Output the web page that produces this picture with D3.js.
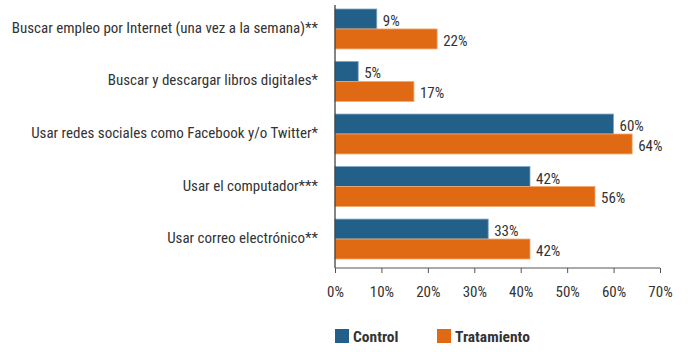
<!DOCTYPE html>
<html>
<head>
<meta charset="utf-8">
<script src="https://cdn.jsdelivr.net/npm/d3@7"></script>
<style>
  body { margin: 0; background: #fff; }
  svg text { font-family: "Liberation Sans Narrow", "Roboto Condensed", "DejaVu Sans Condensed", sans-serif; fill: #333; }
</style>
</head>
<body>
<svg id="chart" width="692" height="352"></svg>
<script>
const categories = [
  "Buscar empleo por Internet (una vez a la semana)**",
  "Buscar y descargar libros digitales*",
  "Usar redes sociales como Facebook y/o Twitter*",
  "Usar el computador***",
  "Usar correo electrónico**",
];
const seriesNames = ["Control", "Tratamiento"];
const control = [9, 5, 60, 42, 33];
const tratamiento = [22, 17, 64, 56, 42];
const xTicks = [0, 10, 20, 30, 40, 50, 60, 70];
const colors = { Control: "#22608a", Tratamiento: "#e06914" };
const strokes = { Control: "#7fa6c4", Tratamiento: "#f2a66e" };

const svg = d3.select("#chart");
const margin = { left: 335, right: 32, top: 2.7, bottom: 84 };
const axisY = 268;

const x = d3.scaleLinear().domain([0, 70]).range([margin.left, 660]);
const y = d3.scaleBand()
  .domain(categories)
  .range([margin.top, 265.3])
  .paddingInner(0.24)
  .paddingOuter(0.12);
const sub = d3.scaleBand().domain(seriesNames).range([0, y.bandwidth()]);

const rows = categories.map((c, i) => ({
  cat: c,
  values: [
    { key: "Control", value: control[i] },
    { key: "Tratamiento", value: tratamiento[i] },
  ],
}));

const groups = svg.append("g").selectAll("g")
  .data(rows)
  .join("g")
  .attr("transform", (d) => `translate(0,${y(d.cat)})`);

groups.selectAll("rect")
  .data((d) => d.values)
  .join("rect")
  .attr("x", x(0))
  .attr("y", (d) => sub(d.key))
  .attr("width", (d) => x(d.value) - x(0))
  .attr("height", sub.bandwidth())
  .attr("fill", (d) => colors[d.key])
  .attr("stroke", (d) => strokes[d.key])
  .attr("stroke-width", 0.8);

groups.selectAll(".val")
  .data((d) => d.values)
  .join("text")
  .attr("class", "val")
  .attr("x", (d) => x(d.value) + 6)
  .attr("y", (d) => sub(d.key) + sub.bandwidth() / 2 + 7)
  .attr("font-size", 15)
  .text((d) => d.value + "%");

// category labels
svg.append("g").selectAll("text")
  .data(categories)
  .join("text")
  .attr("x", 318)
  .attr("y", (d) => y(d) + y.bandwidth() / 2 + 4)
  .attr("text-anchor", "end")
  .attr("font-size", 15)
  .text((d) => d);

// vertical axis line
svg.append("line")
  .attr("x1", x(0)).attr("x2", x(0))
  .attr("y1", 5).attr("y2", axisY)
  .attr("stroke", "#333").attr("stroke-width", 1.2);

// x axis
const xAxis = d3.axisBottom(x)
  .tickValues(xTicks)
  .tickSize(5)
  .tickFormat((d) => d + "%");
svg.append("g")
  .attr("transform", `translate(0,${axisY})`)
  .call(xAxis)
  .call((g) => {
    g.select(".domain").attr("stroke", "#555").attr("d", `M${x(0)},0H${x(70)}`);
    g.selectAll(".tick line").attr("stroke", "#555").attr("y1", 0).attr("y2", 5);
    g.selectAll(".tick text")
      .attr("y", 18)
      .attr("font-size", 15)
      .attr("fill", "#333")
      .attr("font-family", "Liberation Sans Narrow, sans-serif");
  });

// legend
const legend = svg.append("g").selectAll("g")
  .data(seriesNames)
  .join("g")
  .attr("transform", (d, i) => `translate(${[335, 437][i]},329)`);
legend.append("rect")
  .attr("width", 14).attr("height", 14)
  .attr("fill", (d) => colors[d]);
legend.append("text")
  .attr("x", 18).attr("y", 13)
  .attr("font-size", 15.5)
  .attr("font-weight", "bold")
  .text((d) => d);
</script>
</body>
</html>
